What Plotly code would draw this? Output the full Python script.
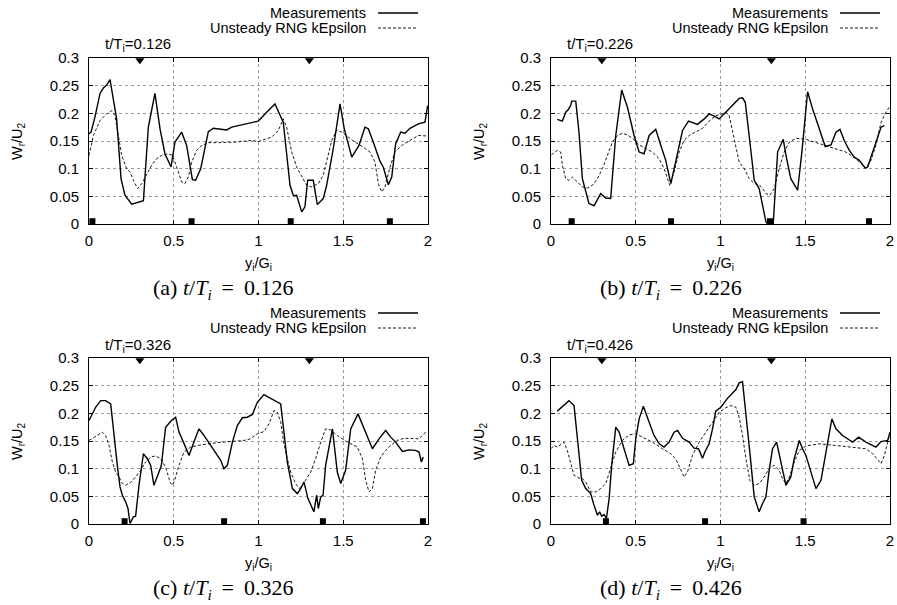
import plotly.graph_objects as go

# ---------------- data ----------------
# Panel (a) t/Ti = 0.126
a_meas_x = [0, 0.012, 0.035, 0.065, 0.085, 0.104, 0.124, 0.163, 0.189, 0.212, 0.252, 0.321, 0.350, 0.389, 0.419, 0.448, 0.484, 0.507, 0.547, 0.576, 0.610, 0.629, 0.659, 0.704, 0.734, 0.812, 0.842, 0.999, 1.048, 1.097, 1.146, 1.186, 1.206, 1.225, 1.255, 1.274, 1.290, 1.323, 1.347, 1.382, 1.402, 1.441, 1.481, 1.506, 1.550, 1.593, 1.628, 1.648, 1.677, 1.717, 1.736, 1.766, 1.786, 1.809, 1.839, 1.864, 1.894, 1.943, 1.982, 1.998]
a_meas_y = [0.163, 0.166, 0.193, 0.236, 0.246, 0.251, 0.261, 0.190, 0.082, 0.052, 0.036, 0.042, 0.175, 0.236, 0.172, 0.127, 0.103, 0.148, 0.166, 0.142, 0.080, 0.079, 0.100, 0.167, 0.173, 0.170, 0.175, 0.186, 0.202, 0.217, 0.184, 0.070, 0.051, 0.052, 0.022, 0.031, 0.079, 0.079, 0.035, 0.046, 0.070, 0.136, 0.217, 0.172, 0.121, 0.142, 0.175, 0.172, 0.148, 0.113, 0.103, 0.071, 0.085, 0.145, 0.166, 0.164, 0.173, 0.181, 0.184, 0.214]
a_sim_x = [0, 0.026, 0.065, 0.104, 0.134, 0.153, 0.173, 0.193, 0.222, 0.242, 0.262, 0.287, 0.311, 0.340, 0.370, 0.399, 0.429, 0.468, 0.492, 0.507, 0.527, 0.547, 0.566, 0.586, 0.606, 0.635, 0.665, 0.704, 0.763, 0.861, 0.960, 0.999, 1.038, 1.078, 1.117, 1.146, 1.166, 1.196, 1.225, 1.255, 1.284, 1.314, 1.353, 1.382, 1.402, 1.432, 1.461, 1.491, 1.530, 1.569, 1.618, 1.658, 1.687, 1.707, 1.727, 1.746, 1.776, 1.805, 1.845, 1.894, 1.943, 1.998]
a_sim_y = [0.124, 0.160, 0.187, 0.199, 0.205, 0.196, 0.160, 0.124, 0.100, 0.094, 0.079, 0.064, 0.073, 0.088, 0.106, 0.118, 0.124, 0.127, 0.124, 0.112, 0.094, 0.076, 0.073, 0.085, 0.112, 0.133, 0.142, 0.147, 0.147, 0.148, 0.151, 0.149, 0.153, 0.157, 0.169, 0.190, 0.175, 0.130, 0.103, 0.085, 0.070, 0.067, 0.073, 0.088, 0.112, 0.151, 0.170, 0.166, 0.157, 0.148, 0.139, 0.130, 0.112, 0.073, 0.058, 0.067, 0.103, 0.130, 0.142, 0.151, 0.160, 0.159]

# Panel (b) t/Ti = 0.226
b_meas_x = [0.037, 0.067, 0.087, 0.102, 0.116, 0.122, 0.146, 0.165, 0.185, 0.224, 0.254, 0.293, 0.323, 0.352, 0.382, 0.417, 0.451, 0.490, 0.520, 0.549, 0.579, 0.618, 0.648, 0.677, 0.707, 0.736, 0.756, 0.776, 0.811, 0.864, 0.904, 0.933, 0.963, 0.992, 1.031, 1.071, 1.110, 1.130, 1.146, 1.169, 1.199, 1.228, 1.252, 1.268, 1.278, 1.311, 1.337, 1.370, 1.390, 1.415, 1.455, 1.480, 1.514, 1.543, 1.573, 1.593, 1.618, 1.652, 1.681, 1.705, 1.730, 1.760, 1.789, 1.819, 1.839, 1.854, 1.868, 1.888, 1.917, 1.947, 1.967]
b_meas_y = [0.189, 0.186, 0.202, 0.207, 0.214, 0.222, 0.222, 0.166, 0.082, 0.037, 0.033, 0.055, 0.047, 0.046, 0.160, 0.242, 0.211, 0.160, 0.130, 0.127, 0.160, 0.171, 0.142, 0.115, 0.073, 0.112, 0.136, 0.169, 0.186, 0.180, 0.190, 0.199, 0.195, 0.190, 0.202, 0.214, 0.227, 0.228, 0.220, 0.160, 0.079, 0.064, 0.031, 0.004, 0.0, 0.0, 0.130, 0.153, 0.118, 0.082, 0.061, 0.130, 0.239, 0.208, 0.181, 0.161, 0.140, 0.143, 0.166, 0.171, 0.151, 0.133, 0.121, 0.115, 0.106, 0.101, 0.103, 0.121, 0.148, 0.175, 0.178]
b_sim_x = [0.002, 0.037, 0.057, 0.067, 0.087, 0.106, 0.126, 0.156, 0.185, 0.215, 0.244, 0.274, 0.303, 0.333, 0.362, 0.392, 0.421, 0.451, 0.480, 0.520, 0.559, 0.598, 0.638, 0.667, 0.701, 0.726, 0.756, 0.785, 0.815, 0.854, 0.894, 0.933, 0.972, 1.002, 1.031, 1.051, 1.071, 1.090, 1.110, 1.140, 1.169, 1.199, 1.228, 1.248, 1.268, 1.291, 1.317, 1.346, 1.376, 1.406, 1.445, 1.504, 1.583, 1.661, 1.740, 1.799, 1.839, 1.858, 1.888, 1.917, 1.947, 1.976, 2.0]
b_sim_y = [0.125, 0.133, 0.130, 0.106, 0.082, 0.079, 0.085, 0.076, 0.067, 0.065, 0.070, 0.082, 0.100, 0.124, 0.148, 0.160, 0.164, 0.161, 0.155, 0.143, 0.136, 0.130, 0.118, 0.100, 0.070, 0.094, 0.130, 0.151, 0.160, 0.166, 0.173, 0.186, 0.196, 0.198, 0.202, 0.196, 0.166, 0.136, 0.112, 0.100, 0.082, 0.073, 0.071, 0.064, 0.055, 0.052, 0.064, 0.100, 0.130, 0.148, 0.155, 0.153, 0.145, 0.137, 0.130, 0.118, 0.106, 0.101, 0.115, 0.142, 0.184, 0.202, 0.213]

# Panel (c) t/Ti = 0.326
c_meas_x = [0.0, 0.039, 0.069, 0.098, 0.128, 0.147, 0.167, 0.183, 0.197, 0.216, 0.230, 0.242, 0.262, 0.275, 0.295, 0.321, 0.344, 0.364, 0.383, 0.413, 0.427, 0.452, 0.486, 0.511, 0.531, 0.557, 0.590, 0.619, 0.649, 0.678, 0.718, 0.757, 0.777, 0.796, 0.816, 0.846, 0.875, 0.905, 0.934, 0.964, 0.993, 1.032, 1.072, 1.131, 1.150, 1.170, 1.200, 1.229, 1.249, 1.268, 1.292, 1.327, 1.343, 1.353, 1.367, 1.381, 1.396, 1.416, 1.436, 1.465, 1.485, 1.514, 1.544, 1.587, 1.632, 1.672, 1.711, 1.750, 1.780, 1.809, 1.849, 1.888, 1.927, 1.947, 1.961, 1.972]
c_meas_y = [0.187, 0.211, 0.223, 0.223, 0.217, 0.160, 0.106, 0.067, 0.052, 0.040, 0.028, 0.001, 0.013, 0.014, 0.070, 0.127, 0.118, 0.106, 0.070, 0.094, 0.106, 0.175, 0.187, 0.193, 0.166, 0.148, 0.124, 0.148, 0.172, 0.160, 0.142, 0.124, 0.115, 0.100, 0.106, 0.148, 0.178, 0.192, 0.193, 0.198, 0.220, 0.234, 0.227, 0.217, 0.166, 0.112, 0.064, 0.055, 0.064, 0.076, 0.046, 0.022, 0.052, 0.028, 0.049, 0.052, 0.106, 0.142, 0.172, 0.094, 0.073, 0.097, 0.172, 0.199, 0.166, 0.136, 0.154, 0.169, 0.157, 0.148, 0.131, 0.134, 0.133, 0.130, 0.112, 0.121]
c_sim_x = [0.0, 0.029, 0.059, 0.079, 0.098, 0.118, 0.138, 0.157, 0.177, 0.197, 0.216, 0.246, 0.275, 0.305, 0.334, 0.364, 0.393, 0.423, 0.452, 0.478, 0.492, 0.505, 0.531, 0.560, 0.600, 0.659, 0.757, 0.855, 0.914, 0.954, 0.993, 1.032, 1.062, 1.091, 1.111, 1.131, 1.150, 1.170, 1.190, 1.219, 1.239, 1.259, 1.278, 1.308, 1.337, 1.367, 1.396, 1.426, 1.465, 1.524, 1.583, 1.613, 1.632, 1.652, 1.672, 1.691, 1.721, 1.750, 1.780, 1.819, 1.858, 1.908, 1.947, 1.967, 1.996]
c_sim_y = [0.151, 0.157, 0.163, 0.166, 0.160, 0.142, 0.112, 0.094, 0.085, 0.073, 0.070, 0.075, 0.085, 0.097, 0.112, 0.121, 0.123, 0.118, 0.103, 0.076, 0.070, 0.079, 0.106, 0.130, 0.139, 0.143, 0.147, 0.149, 0.151, 0.154, 0.163, 0.167, 0.181, 0.205, 0.202, 0.184, 0.145, 0.118, 0.094, 0.073, 0.064, 0.070, 0.079, 0.094, 0.118, 0.148, 0.172, 0.170, 0.160, 0.148, 0.139, 0.118, 0.079, 0.058, 0.064, 0.097, 0.121, 0.133, 0.142, 0.151, 0.155, 0.155, 0.154, 0.160, 0.169]

# Panel (d) t/Ti = 0.426
d_meas_x = [0.037, 0.106, 0.136, 0.156, 0.181, 0.205, 0.234, 0.254, 0.274, 0.287, 0.299, 0.313, 0.327, 0.343, 0.358, 0.382, 0.402, 0.431, 0.461, 0.486, 0.500, 0.520, 0.545, 0.579, 0.608, 0.638, 0.667, 0.697, 0.726, 0.746, 0.776, 0.815, 0.844, 0.870, 0.894, 0.909, 0.933, 0.953, 0.972, 1.002, 1.041, 1.091, 1.110, 1.130, 1.150, 1.173, 1.199, 1.228, 1.248, 1.268, 1.287, 1.307, 1.331, 1.356, 1.386, 1.415, 1.435, 1.465, 1.484, 1.504, 1.524, 1.543, 1.563, 1.593, 1.612, 1.632, 1.657, 1.681, 1.720, 1.780, 1.815, 1.858, 1.888, 1.917, 1.947, 1.986, 2.0]
d_meas_y = [0.204, 0.223, 0.214, 0.154, 0.079, 0.064, 0.055, 0.034, 0.016, 0.022, 0.014, 0.017, 0.010, 0.046, 0.106, 0.175, 0.166, 0.136, 0.106, 0.109, 0.154, 0.190, 0.213, 0.184, 0.160, 0.145, 0.139, 0.148, 0.166, 0.169, 0.155, 0.148, 0.137, 0.136, 0.119, 0.131, 0.145, 0.172, 0.204, 0.211, 0.227, 0.243, 0.255, 0.257, 0.202, 0.130, 0.049, 0.022, 0.037, 0.049, 0.097, 0.136, 0.148, 0.115, 0.070, 0.085, 0.118, 0.151, 0.136, 0.124, 0.103, 0.082, 0.064, 0.079, 0.112, 0.151, 0.190, 0.172, 0.160, 0.148, 0.157, 0.148, 0.143, 0.139, 0.149, 0.151, 0.166]
d_sim_x = [0.0, 0.018, 0.037, 0.077, 0.096, 0.116, 0.136, 0.165, 0.185, 0.205, 0.234, 0.264, 0.293, 0.323, 0.352, 0.382, 0.421, 0.461, 0.500, 0.539, 0.598, 0.657, 0.707, 0.736, 0.766, 0.785, 0.805, 0.835, 0.874, 0.913, 0.953, 0.992, 1.031, 1.061, 1.091, 1.110, 1.130, 1.150, 1.173, 1.199, 1.228, 1.258, 1.287, 1.317, 1.346, 1.366, 1.386, 1.406, 1.435, 1.465, 1.504, 1.583, 1.681, 1.780, 1.858, 1.898, 1.927, 1.947, 1.967, 1.996]
d_sim_y = [0.136, 0.142, 0.139, 0.148, 0.133, 0.112, 0.088, 0.083, 0.082, 0.076, 0.058, 0.058, 0.064, 0.073, 0.100, 0.130, 0.151, 0.161, 0.163, 0.157, 0.148, 0.136, 0.127, 0.118, 0.097, 0.085, 0.094, 0.124, 0.148, 0.167, 0.184, 0.202, 0.210, 0.214, 0.211, 0.193, 0.160, 0.118, 0.079, 0.070, 0.073, 0.085, 0.100, 0.106, 0.097, 0.082, 0.073, 0.085, 0.112, 0.133, 0.141, 0.145, 0.142, 0.139, 0.136, 0.127, 0.115, 0.109, 0.124, 0.160]

# blade position markers
stator_x = [0.3, 1.3]
stator_y_level = 0.296
rotor_y_level = 0.005
a_rotor_x = [0.02, 0.605, 1.19, 1.775]
b_rotor_x = [0.122, 0.708, 1.292, 1.876]
c_rotor_x = [0.21, 0.797, 1.38, 1.97]
d_rotor_x = [0.324, 0.909, 1.49]

times = ["0.126", "0.226", "0.326", "0.426"]
letters = ["a", "b", "c", "d"]

x_ticks = [0, 0.5, 1, 1.5, 2]
x_tick_text = ["0", "0.5", "1", "1.5", "2"]
y_ticks = [0, 0.05, 0.1, 0.15, 0.2, 0.25, 0.3]
y_tick_text = ["0", "0.05", "0.1", "0.15", "0.2", "0.25", "0.3"]

panels = [
    (a_meas_x, a_meas_y, a_sim_x, a_sim_y, a_rotor_x),
    (b_meas_x, b_meas_y, b_sim_x, b_sim_y, b_rotor_x),
    (c_meas_x, c_meas_y, c_sim_x, c_sim_y, c_rotor_x),
    (d_meas_x, d_meas_y, d_sim_x, d_sim_y, d_rotor_x),
]

# ---------------- layout ----------------
W, H = 897, 605
def px(x):
    return x / W
def py(y):
    return 1 - y / H

# plot area pixel boxes (left, right, top, bottom)
boxes = [(89, 428, 58, 224), (551, 890, 58, 224), (89, 428, 358, 524), (551, 890, 358, 524)]
sub_offsets = [(0, 0), (448, 0), (0, 300), (448, 300)]

SANS = "Liberation Sans, Arial, Helvetica, sans-serif"
SERIF = "Liberation Serif, DejaVu Serif, serif"
THIN = "\u2009"

fig = go.Figure()
annotations = []
shapes = []
layout_axes = {}

for i, (mx, my, sx, sy, rx) in enumerate(panels):
    n = i + 1
    xa = "x" if n == 1 else f"x{n}"
    ya = "y" if n == 1 else f"y{n}"
    fig.add_trace(go.Scatter(x=mx, y=my, mode="lines", xaxis=xa, yaxis=ya,
                             line=dict(color="black", width=1.4), showlegend=False))
    fig.add_trace(go.Scatter(x=sx, y=sy, mode="lines", xaxis=xa, yaxis=ya,
                             line=dict(color="black", width=0.9, dash="3px,2px"), showlegend=False))
    fig.add_trace(go.Scatter(x=stator_x, y=[stator_y_level] * len(stator_x), mode="markers",
                             xaxis=xa, yaxis=ya, cliponaxis=False,
                             marker=dict(symbol="triangle-down", size=8, color="black"), showlegend=False))
    fig.add_trace(go.Scatter(x=rx, y=[rotor_y_level] * len(rx), mode="markers",
                             xaxis=xa, yaxis=ya, cliponaxis=False,
                             marker=dict(symbol="square", size=6, color="black"), showlegend=False))

    l, r, t, b = boxes[i]
    ox, oy = sub_offsets[i]
    axis_common = dict(showline=True, linecolor="black", linewidth=1, mirror="ticks",
                       ticks="inside", ticklen=4, tickcolor="black",
                       showgrid=True, gridcolor="#9a9a9a", griddash="dot", gridwidth=1,
                       zeroline=False, tickfont=dict(family=SANS, size=15, color="black"))
    layout_axes["xaxis" if n == 1 else f"xaxis{n}"] = dict(
        domain=[px(l), px(r)], range=[0, 2], anchor=ya,
        tickmode="array", tickvals=x_ticks, ticktext=x_tick_text,
        ticklabelstandoff=3, **axis_common)
    layout_axes["yaxis" if n == 1 else f"yaxis{n}"] = dict(
        domain=[py(b), py(t)], range=[0, 0.3], anchor=xa,
        tickmode="array", tickvals=y_ticks, ticktext=y_tick_text,
        ticklabelstandoff=6, **axis_common)

    # axis titles
    annotations.append(dict(x=px((l + r) / 2), y=py(b + 40), xref="paper", yref="paper",
                            text="y<sub>i</sub>/G<sub>i</sub>", showarrow=False,
                            font=dict(family=SANS, size=14.5, color="black"),
                            xanchor="center", yanchor="middle"))
    annotations.append(dict(x=px(l - 71), y=py((t + b) / 2), xref="paper", yref="paper",
                            text="W<sub>r</sub>/U<sub>2</sub>", showarrow=False, textangle=-90,
                            font=dict(family=SANS, size=14.5, color="black"),
                            xanchor="center", yanchor="middle"))
    # panel time label
    annotations.append(dict(x=px(l + 49), y=py(oy + 45), xref="paper", yref="paper",
                            text=f"t/T<sub>i</sub>={times[i]}", showarrow=False,
                            font=dict(family=SANS, size=15, color="black"),
                            xanchor="center", yanchor="middle"))
    # legend entries
    for k, (label, dash, w) in enumerate([("Measurements", "solid", 1.4),
                                           ("Unsteady RNG kEpsilon", "3px,2px", 0.9)]):
        yy = oy + 13 + 15 * k
        annotations.append(dict(x=px(r - 60), y=py(yy), xref="paper", yref="paper",
                                text=label, showarrow=False,
                                font=dict(family=SANS, size=14.5, color="black"),
                                xanchor="right", yanchor="middle"))
        shapes.append(dict(type="line", xref="paper", yref="paper",
                           x0=px(r - 50), x1=px(r - 10), y0=py(yy), y1=py(yy),
                           line=dict(color="black", width=w, dash=dash)))
    # caption
    annotations.append(dict(x=px(ox + 223), y=py(oy + 289), xref="paper", yref="paper",
                            text=f"({letters[i]}) <i>t</i>/<i>T<sub>i</sub></i>{THIN} = {THIN}{times[i]}",
                            showarrow=False,
                            font=dict(family=SERIF, size=22, color="black"),
                            xanchor="center", yanchor="middle"))

fig.update_layout(width=W, height=H,
                  margin=dict(l=0, r=0, t=0, b=0, pad=0, autoexpand=False),
                  paper_bgcolor="white", plot_bgcolor="white",
                  annotations=annotations, shapes=shapes, **layout_axes)

fig.write_html("out.html")
